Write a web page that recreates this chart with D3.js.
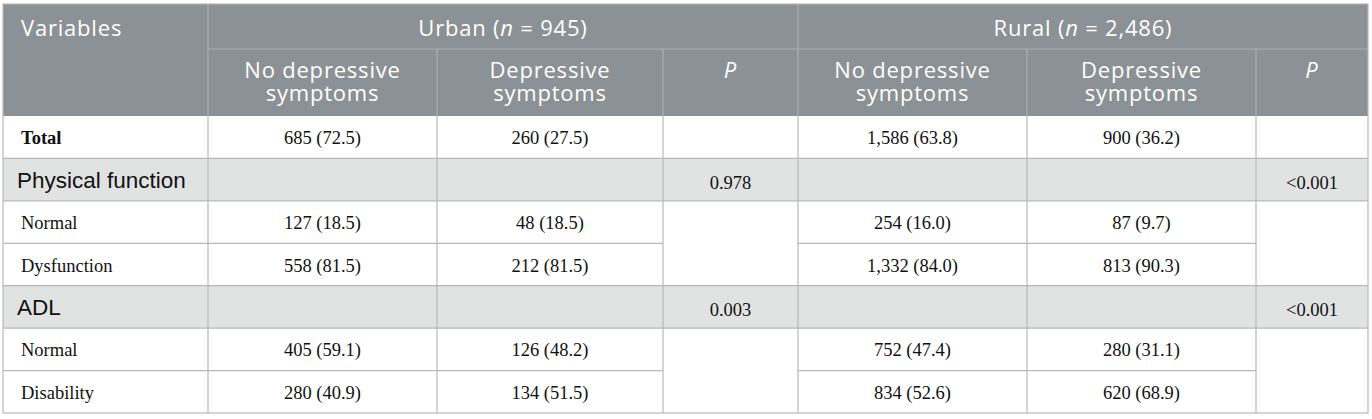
<!DOCTYPE html>
<html>
<head>
<meta charset="utf-8">
<script src="https://d3js.org/d3.v7.min.js"></script>
<style>
  body { margin: 0; background: #fff; }
</style>
</head>
<body>
<svg id="chart" width="1372" height="419"></svg>
<script>
    // table content
    var groups = ['Urban', 'Rural'];
    var groupN = ['945', '2,486'];
    var subHeads = [['No depressive', 'symptoms'], ['Depressive', 'symptoms'], ['P']];
    var rowLabels = ['Total', 'Physical function', 'Normal', 'Dysfunction', 'ADL', 'Normal', 'Disability'];
    var rowKinds = ['total', 'section', 'item', 'item', 'section', 'item', 'item'];
    var urbanNo = ['685 (72.5)', '', '127 (18.5)', '558 (81.5)', '', '405 (59.1)', '280 (40.9)'];
    var urbanDep = ['260 (27.5)', '', '48 (18.5)', '212 (81.5)', '', '126 (48.2)', '134 (51.5)'];
    var urbanP = ['', '0.978', '', '', '0.003', '', ''];
    var ruralNo = ['1,586 (63.8)', '', '254 (16.0)', '1,332 (84.0)', '', '752 (47.4)', '834 (52.6)'];
    var ruralDep = ['900 (36.2)', '', '87 (9.7)', '813 (90.3)', '', '280 (31.1)', '620 (68.9)'];
    var ruralP = ['', '<0.001', '', '', '<0.001', '', ''];

    var colEdges = [3, 208, 437, 663, 798, 1027, 1256, 1368];
    var tableTop = 4, head1 = 49, head2 = 116, tableBottom = 413;

    var headFill = '#8b9194', headLine = '#aab0b2';
    var sectionFill = '#e1e3e3', gridLine = '#b8b8b8';
    var headFont = "'Open Sans', sans-serif";
    var sectionFont = "'Liberation Sans', Arial, sans-serif";
    var serif = "'Liberation Serif', 'Times New Roman', serif";

    var svg = d3.select('#chart');

    var y = d3.scaleBand()
        .domain(d3.range(rowLabels.length))
        .range([head2, tableBottom]);

    var cols = [urbanNo, urbanDep, urbanP, ruralNo, ruralDep, ruralP];

    // header background
    svg.append('rect')
        .attr('x', colEdges[0]).attr('y', tableTop)
        .attr('width', colEdges[7] - colEdges[0]).attr('height', head2 - tableTop)
        .attr('fill', headFill);

    // section row backgrounds
    svg.append('g').selectAll('rect')
        .data(d3.range(rowLabels.length).filter(i => rowKinds[i] == 'section'))
        .join('rect')
        .attr('x', colEdges[0]).attr('y', i => y(i))
        .attr('width', colEdges[7] - colEdges[0]).attr('height', y.bandwidth())
        .attr('fill', sectionFill);

    // header lines
    var hl = svg.append('g').attr('stroke', headLine).attr('stroke-width', 1.2);
    hl.append('line').attr('x1', colEdges[1]).attr('x2', colEdges[7]).attr('y1', head1).attr('y2', head1);
    [1, 4].forEach(c => hl.append('line').attr('x1', colEdges[c]).attr('x2', colEdges[c]).attr('y1', tableTop).attr('y2', head2));
    [2, 3, 5, 6].forEach(c => hl.append('line').attr('x1', colEdges[c]).attr('x2', colEdges[c]).attr('y1', head1).attr('y2', head2));

    // body grid lines
    var gl = svg.append('g').attr('stroke', gridLine).attr('stroke-width', 1.2);
    d3.range(1, rowLabels.length).forEach(i => {
        // P column cells are merged across item pairs
        var merged = rowKinds[i] == 'item' && rowKinds[i - 1] == 'item';
        var segs = merged ? [[0, 3], [4, 6]] : [[0, 7]];
        segs.forEach(s => gl.append('line')
            .attr('x1', colEdges[s[0]]).attr('x2', colEdges[s[1]])
            .attr('y1', y(i)).attr('y2', y(i)));
    });
    d3.range(1, 7).forEach(c => gl.append('line')
        .attr('x1', colEdges[c]).attr('x2', colEdges[c])
        .attr('y1', head2).attr('y2', tableBottom));
    svg.append('rect')
        .attr('x', colEdges[0]).attr('y', tableTop)
        .attr('width', colEdges[7] - colEdges[0]).attr('height', tableBottom - tableTop)
        .attr('fill', 'none').attr('stroke', gridLine).attr('stroke-width', 1.2);

    // header text
    var ht = svg.append('g').attr('fill', '#fff')
        .attr('font-family', headFont).attr('font-size', 22)
        .attr('letter-spacing', 0.8);
    ht.append('text').attr('x', 21).attr('y', 36).text('Variables');
    groups.forEach((g, k) => {
        var t = ht.append('text')
            .attr('x', (colEdges[1 + 3 * k] + colEdges[4 + 3 * k]) / 2)
            .attr('y', 36)
            .attr('text-anchor', 'middle');
        t.append('tspan').text(g + ' (');
        t.append('tspan').attr('font-style', 'italic').text('n');
        t.append('tspan').text(' = ' + groupN[k] + ')');
        subHeads.forEach((lines, j) => {
            var c = 1 + 3 * k + j;
            ht.append('text')
                .attr('x', (colEdges[c] + colEdges[c + 1]) / 2)
                .attr('text-anchor', 'middle')
                .attr('font-style', lines[0] == 'P' ? 'italic' : 'normal')
                .selectAll('tspan')
                .data(lines)
                .join('tspan')
                .attr('x', (colEdges[c] + colEdges[c + 1]) / 2)
                .attr('y', (d, i) => 78 + i * 23)
                .text(d => d);
        });
    });

    // row labels
    svg.append('g').selectAll('text')
        .data(rowLabels)
        .join('text')
        .attr('x', (d, i) => rowKinds[i] == 'section' ? 17 : 21)
        .attr('y', (d, i) => y(i) + y.bandwidth() / 2 + (rowKinds[i] == 'section' ? 8 : 7))
        .attr('font-family', (d, i) => rowKinds[i] == 'section' ? sectionFont : serif)
        .attr('font-size', (d, i) => rowKinds[i] == 'section' ? 22.5 : 18.5)
        .attr('font-weight', (d, i) => rowKinds[i] == 'total' ? 'bold' : 'normal')
        .attr('fill', '#111')
        .text(d => d);

    // cell values
    cols.forEach((vals, c) => {
        svg.append('g').selectAll('text')
            .data(vals)
            .join('text')
            .attr('x', (colEdges[c + 1] + colEdges[c + 2]) / 2)
            .attr('y', (d, i) => y(i) + y.bandwidth() / 2 + (rowKinds[i] == 'section' ? 9 : 7))
            .attr('text-anchor', 'middle')
            .attr('font-family', serif)
            .attr('font-size', 18.5)
            .attr('fill', '#111')
            .text(d => d);
    });
</script>
</body>
</html>
